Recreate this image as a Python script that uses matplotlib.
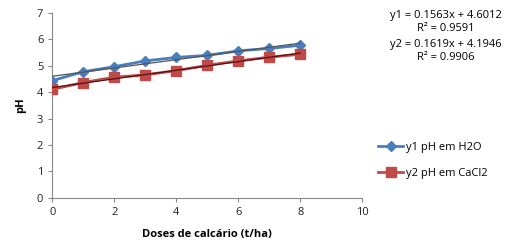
import numpy as np
import matplotlib
matplotlib.use("Agg")
from matplotlib import pyplot as plt

doses = [0, 1, 2, 3, 4, 5, 6, 7, 8]
ph_h2o = [4.44, 4.78, 4.97, 5.19, 5.32, 5.40, 5.57, 5.66, 5.78]
ph_cacl2 = [4.11, 4.37, 4.57, 4.66, 4.82, 5.02, 5.19, 5.33, 5.44]
eq1 = "y1 = 0.1563x + 4.6012\nR² = 0.9591"
eq2 = "y2 = 0.1619x + 4.1946\nR² = 0.9906"

plt.rcParams['font.family'] = ['Open Sans', 'DejaVu Sans']

fig = plt.figure(figsize=(5.08, 2.52), dpi=100)
ax = fig.add_axes([0.103, 0.215, 0.61, 0.733])

blue = "#4A7EBB"
red = "#BE4B48"
ax.plot(doses, ph_h2o, color=blue, lw=2, marker="D", ms=5, label="y1 pH em H2O", zorder=3)
ax.plot(doses, ph_cacl2, color=red, lw=2, marker="s", ms=7, label="y2 pH em CaCl2", zorder=3)

# linear trendlines
x = np.array(doses)
k1 = np.polyfit(x, ph_h2o, 1)
k2 = np.polyfit(x, ph_cacl2, 1)
ax.plot(x, np.polyval(k1, x), color="#555555", lw=0.9, zorder=4)
ax.plot(x, np.polyval(k2, x), color="#5a1010", lw=0.9, zorder=4)

ax.set_xlim(0, 10)
ax.set_ylim(0, 7)
ax.set_xticks(range(0, 11, 2))
ax.set_yticks(range(0, 8))
ax.tick_params(labelsize=8, length=3, color="#888888", colors="#222222")
for s in ["top", "right"]:
    ax.spines[s].set_visible(False)
for s in ["left", "bottom"]:
    ax.spines[s].set_color("#888888")
ax.set_xlabel("Doses de calcário (t/ha)", fontsize=8, fontweight="bold", labelpad=8)
ax.set_ylabel("pH", fontsize=8, fontweight="bold", labelpad=8)

fig.text(0.878, 0.962, eq1, fontsize=8, ha="center", va="top", linespacing=1.25)
fig.text(0.878, 0.845, eq2, fontsize=8, ha="center", va="top", linespacing=1.25)

fig.legend(loc="upper left", bbox_to_anchor=(0.725, 0.475), frameon=False, fontsize=8,
           handlelength=2.2, labelspacing=1.3, handletextpad=0.3)

fig.savefig("out.png", dpi=100)
